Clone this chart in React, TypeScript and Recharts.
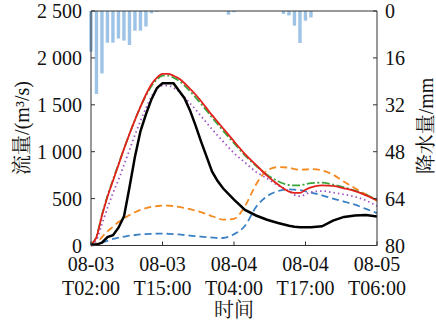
import { ComposedChart, Line, Bar, XAxis, YAxis, ReferenceLine } from "recharts";

// time axis: hours after 08-03 02:00
const xTicks = [0, 13, 26, 39, 52];
const xTickDates = ["08-03", "08-03", "08-04", "08-04", "08-05"];
const xTickTimes = ["T02:00", "T15:00", "T04:00", "T17:00", "T06:00"];
const flowTicks = [0, 500, 1000, 1500, 2000, 2500];
const rainTicks = [0, 16, 32, 48, 64, 80];

// hourly rainfall (mm)
const rainHours = [0, 1, 2, 3, 4, 5, 6, 7, 8, 9, 10, 11, 12, 25, 26, 35, 36, 37, 38, 39, 40];
const rain = [13.9, 28.3, 21.3, 10.8, 10.8, 9.4, 10.1, 11.6, 6.7, 6.7, 5.3, 0.8, 0.3, 1.3, 0.4, 1.0, 1.5, 5.0, 10.9, 3.3, 2.2];

// discharge (m3/s)
const flowHours = [0, 1, 2, 3, 4, 5, 6, 7, 8, 9, 10, 11, 12, 13, 14, 15, 16, 17, 18, 19, 20, 21, 22, 23, 24, 26, 28, 30, 32, 34, 36, 37, 38, 39, 40, 42, 44, 46, 48, 50, 52];
const observed = [10, 10, 30, 90, 110, 190, 310, 620, 950, 1220, 1400, 1560, 1680, 1730, 1730, 1730, 1650, 1570, 1440, 1280, 1110, 950, 790, 690, 610, 490, 380, 320, 275, 240, 210, 200, 195, 195, 195, 205, 265, 305, 320, 325, 310];
const simRed = [10, 90, 320, 520, 690, 860, 1030, 1190, 1340, 1480, 1610, 1720, 1790, 1830, 1830, 1810, 1780, 1730, 1670, 1610, 1540, 1465, 1390, 1320, 1250, 1110, 975, 860, 745, 650, 575, 560, 560, 595, 620, 640, 635, 610, 580, 535, 485];
const simGreen = [10, 100, 330, 530, 700, 870, 1030, 1190, 1340, 1480, 1600, 1700, 1770, 1810, 1810, 1790, 1755, 1705, 1645, 1580, 1510, 1440, 1365, 1295, 1225, 1090, 960, 850, 755, 685, 645, 640, 640, 655, 665, 670, 650, 620, 585, 540, 490];
const simPurple = [10, 60, 230, 400, 560, 700, 860, 1020, 1180, 1330, 1465, 1590, 1670, 1705, 1705, 1680, 1640, 1580, 1515, 1450, 1380, 1310, 1240, 1175, 1110, 985, 885, 785, 715, 640, 580, 540, 525, 545, 570, 580, 565, 545, 520, 480, 420];
const simOrange = [0, 20, 90, 150, 200, 250, 290, 325, 355, 380, 398, 412, 420, 425, 425, 420, 412, 400, 388, 372, 355, 335, 312, 292, 275, 285, 420, 650, 800, 835, 830, 815, 808, 810, 815, 800, 755, 680, 610, 545, 475];
const simBlue = [0, 10, 30, 50, 70, 85, 95, 105, 112, 118, 122, 125, 126, 126, 125, 122, 118, 112, 106, 100, 95, 90, 85, 80, 80, 120, 210, 410, 525, 580, 598, 595, 590, 578, 565, 535, 500, 468, 435, 390, 345];

const allHours = Array.from(new Set([...rainHours, ...flowHours])).sort((a, b) => a - b);
const rows = allHours.map((h) => {
  const fi = flowHours.indexOf(h);
  const ri = rainHours.indexOf(h);
  return {
    h,
    rain: ri >= 0 ? rain[ri] : undefined,
    observed: fi >= 0 ? observed[fi] : undefined,
    simRed: fi >= 0 ? simRed[fi] : undefined,
    simGreen: fi >= 0 ? simGreen[fi] : undefined,
    simPurple: fi >= 0 ? simPurple[fi] : undefined,
    simOrange: fi >= 0 ? simOrange[fi] : undefined,
    simBlue: fi >= 0 ? simBlue[fi] : undefined,
  };
});

const FONT = "Liberation Serif, Noto Serif CJK SC, serif";
const AXIS = "#333";
const txt = { fontFamily: FONT, fontSize: 20 };

const fmtFlow = (v: number) =>
  v >= 1000 ? `${Math.floor(v / 1000)} ${String(v % 1000).padStart(3, "0")}` : String(v);

function LeftTick({ x, y, payload }: any) {
  const ax = x + 9;
  return (
    <g>
      <line x1={ax} y1={y} x2={ax + 4} y2={y} stroke={AXIS} />
      <text x={x} y={y} textAnchor="end" dominantBaseline="central" fill="#111" style={txt}>
        {fmtFlow(payload.value)}
      </text>
    </g>
  );
}

function RightTick({ x, y, payload }: any) {
  const ax = x - 8;
  return (
    <g>
      <line x1={ax} y1={y} x2={ax - 4} y2={y} stroke={AXIS} />
      <text x={x} y={y} textAnchor="start" dominantBaseline="central" fill="#111" style={txt}>
        {payload.value}
      </text>
    </g>
  );
}

function BottomTick({ x, y, payload }: any) {
  const ay = y - 4;
  const i = xTicks.indexOf(payload.value);
  return (
    <g>
      <line x1={x} y1={ay} x2={x} y2={ay - 4} stroke={AXIS} />
      <text x={x} y={ay + 18} textAnchor="middle" dominantBaseline="central" fill="#111" style={txt}>
        {xTickDates[i]}
      </text>
      <text x={x} y={ay + 42} textAnchor="middle" dominantBaseline="central" fill="#111" style={txt}>
        {xTickTimes[i]}
      </text>
    </g>
  );
}

function Title({ px, py, text, rotate }: { px: number; py: number; text: string; rotate?: boolean }) {
  return (
    <text
      x={px}
      y={py}
      textAnchor="middle"
      dominantBaseline="central"
      fill="#111"
      style={txt}
      transform={rotate ? `rotate(-90 ${px} ${py})` : undefined}
    >
      {text}
    </text>
  );
}

export default function App() {
  return (
    <div style={{ position: "absolute", left: 0, top: 0, width: 436, height: 326, background: "#fff" }}>
      <ComposedChart width={436} height={326} data={rows} margin={{ top: 11, right: 0, bottom: 0, left: 0 }}>
        <XAxis
          dataKey="h"
          type="number"
          domain={[0, 52]}
          ticks={xTicks}
          stroke={AXIS}
          tickLine={false}
          tickSize={0}
          tickMargin={4}
          height={80.5}
          tick={<BottomTick />}
          label={<Title px={234} py={310} text="时间" />}
        />
        <YAxis
          yAxisId="flow"
          orientation="left"
          domain={[0, 2500]}
          ticks={flowTicks}
          width={91}
          stroke={AXIS}
          tickLine={false}
          tickSize={0}
          tickMargin={9}
          tick={<LeftTick />}
          label={<Title px={22} py={128} text="流量/(m³/s)" rotate />}
        />
        <YAxis
          yAxisId="rain"
          orientation="right"
          domain={[0, 80]}
          reversed
          ticks={rainTicks}
          width={59}
          stroke={AXIS}
          tickLine={false}
          tickSize={0}
          tickMargin={8}
          tick={<RightTick />}
          label={<Title px={426} py={126} text="降水量/mm" rotate />}
        />
        <ReferenceLine yAxisId="flow" y={2500} stroke={AXIS} />
        <Bar yAxisId="rain" dataKey="rain" fill="#9dc3e6" barSize={3.4} isAnimationActive={false} />
        <Line yAxisId="flow" dataKey="simBlue" type="monotone" stroke="#3a80c4" strokeWidth={1.8} strokeDasharray="7 4" dot={false} connectNulls isAnimationActive={false} />
        <Line yAxisId="flow" dataKey="simOrange" type="monotone" stroke="#f5891f" strokeWidth={1.8} strokeDasharray="7 4" dot={false} connectNulls isAnimationActive={false} />
        <Line yAxisId="flow" dataKey="simPurple" type="monotone" stroke="#a054c4" strokeWidth={1.8} strokeDasharray="1.5 3" dot={false} connectNulls isAnimationActive={false} />
        <Line yAxisId="flow" dataKey="simGreen" type="monotone" stroke="#3aa53a" strokeWidth={1.8} strokeDasharray="8 2.5 2 2.5" dot={false} connectNulls isAnimationActive={false} />
        <Line yAxisId="flow" dataKey="simRed" type="monotone" stroke="#e3201c" strokeWidth={1.8} dot={false} connectNulls isAnimationActive={false} />
        <Line yAxisId="flow" dataKey="observed" type="linear" stroke="#000" strokeWidth={2.5} dot={false} connectNulls isAnimationActive={false} />
      </ComposedChart>
    </div>
  );
}
